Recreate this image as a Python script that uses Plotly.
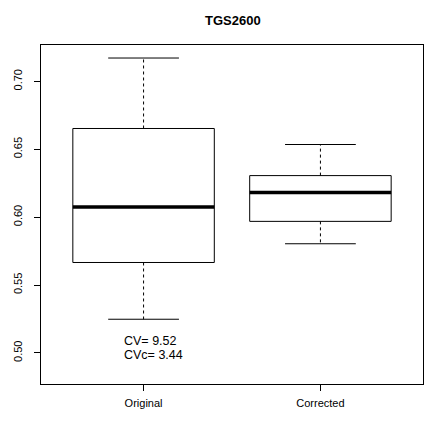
import plotly.graph_objects as go

groups = ["Original", "Corrected"]
pos = [1, 2]
lower_whisker = [0.5248, 0.5804]
q1 = [0.5666, 0.5969]
median = [0.6075, 0.6181]
q3 = [0.6653, 0.6306]
upper_whisker = [0.7172, 0.6535]
cv_labels = ["CV= 9.52", "CVc= 3.44"]
cv_y = [0.5086, 0.4985]

half = 0.4   # half box width
cap = 0.2    # half whisker-cap width

fig = go.Figure()
for i in range(len(groups)):
    x = pos[i]
    # box outline
    fig.add_trace(go.Scatter(
        x=[x - half, x + half, x + half, x - half, x - half],
        y=[q1[i], q1[i], q3[i], q3[i], q1[i]],
        mode="lines", line=dict(color="black", width=1), hoverinfo="skip"))
    # median
    fig.add_trace(go.Scatter(
        x=[x - half, x + half], y=[median[i], median[i]],
        mode="lines", line=dict(color="black", width=3.5), hoverinfo="skip"))
    # whiskers (dashed)
    fig.add_trace(go.Scatter(
        x=[x, x, None, x, x],
        y=[q3[i], upper_whisker[i], None, q1[i], lower_whisker[i]],
        mode="lines", line=dict(color="black", width=1, dash="3px,3px"),
        hoverinfo="skip"))
    # caps
    fig.add_trace(go.Scatter(
        x=[x - cap, x + cap, None, x - cap, x + cap],
        y=[upper_whisker[i], upper_whisker[i], None,
           lower_whisker[i], lower_whisker[i]],
        mode="lines", line=dict(color="black", width=1), hoverinfo="skip"))

for lab, yy in zip(cv_labels, cv_y):
    fig.add_annotation(x=0.878, y=yy, text=lab, showarrow=False,
                       xanchor="left", yanchor="middle",
                       font=dict(size=12.5, color="black"))

# page body has an 8px margin, so the figure is a bit smaller than the window
fig.update_layout(
    width=430, height=414,
    margin=dict(l=33, r=15, t=37, b=38, autoexpand=False),
    plot_bgcolor="white", paper_bgcolor="white",
    showlegend=False,
    font=dict(family="Liberation Sans, Arial", color="black"),
    title=dict(text="<b>TGS2600</b>", x=0.523, xanchor="center",
               y=0.971, yanchor="middle", font=dict(size=13)),
)
fig.update_xaxes(range=[0.42, 2.58], tickvals=pos, ticktext=groups,
                 showgrid=False, zeroline=False, showline=True,
                 linecolor="black", linewidth=1, mirror=True,
                 ticks="outside", ticklen=6, tickcolor="black",
                 ticklabelstandoff=3,
                 tickfont=dict(size=11), automargin=False)
fig.update_yaxes(range=[0.4771, 0.7268],
                 tickvals=[0.50, 0.55, 0.60, 0.65, 0.70],
                 ticktext=["0.50", "0.55", "0.60", "0.65", "0.70"],
                 tickangle=-90,
                 showgrid=False, zeroline=False, showline=True,
                 linecolor="black", linewidth=1, mirror=True,
                 ticks="outside", ticklen=6, tickcolor="black",
                 ticklabelstandoff=8,
                 tickfont=dict(size=11), automargin=False)

fig.write_html("out.html")
